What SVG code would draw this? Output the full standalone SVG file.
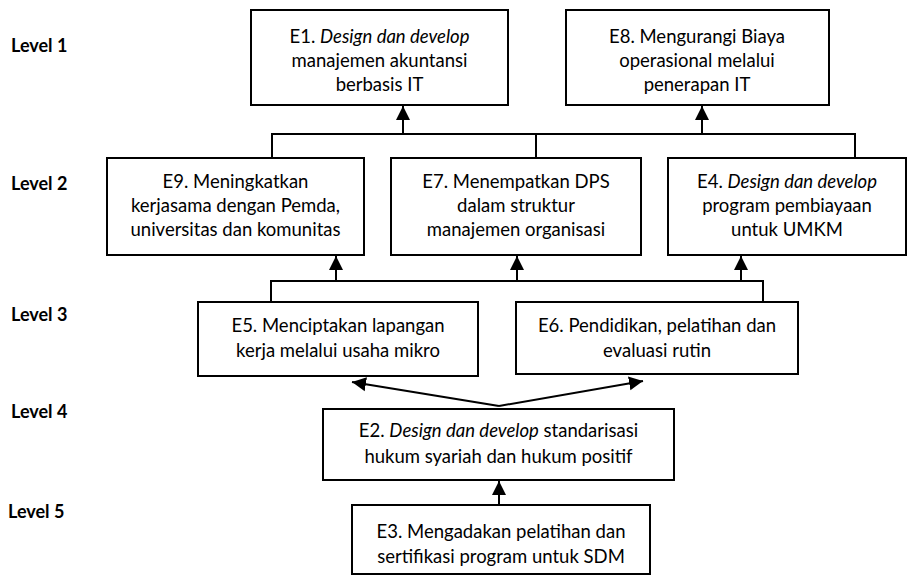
<svg xmlns="http://www.w3.org/2000/svg" width="907" height="576" viewBox="0 0 907 576">
<style>
.box{fill:#fff;stroke:#000;stroke-width:2}
.t{font-family:Lato,"Liberation Sans",sans-serif;font-size:18.5px;fill:#000;text-anchor:middle}
.lv{font-family:Lato,"Liberation Sans",sans-serif;font-size:18px;font-weight:bold;fill:#000}
.ln{fill:none;stroke:#000;stroke-width:2}
.ar{fill:none;stroke:#000;stroke-width:2;marker-end:url(#ah)}
</style>
<defs>
<marker id="ah" markerUnits="userSpaceOnUse" markerWidth="15" markerHeight="15" viewBox="0 0 15 15" refX="14" refY="7.5" orient="auto">
<path d="M0,0.5 L14,7.5 L0,14.5 Z" fill="#000"/>
</marker>
</defs>
<g id="levels">
<text class="lv" x="11" y="52">Level 1</text>
<text class="lv" x="11" y="190">Level 2</text>
<text class="lv" x="11" y="321">Level 3</text>
<text class="lv" x="11" y="418">Level 4</text>
<text class="lv" x="8" y="518">Level 5</text>
</g>
<g id="connectors">
<path class="ln" d="M272,158 V134 H855 V158"/>
<path class="ln" d="M536,134 V158"/>
<path class="ln" d="M271,302 V281 H763 V302"/>
<path class="ar" d="M403,134 V106"/>
<path class="ar" d="M702,134 V106"/>
<path class="ar" d="M336,281 V256"/>
<path class="ar" d="M517,281 V256"/>
<path class="ar" d="M741,281 V256"/>
<path class="ar" d="M499,406 L352,382"/>
<path class="ar" d="M499,406 L643,381"/>
<path class="ar" d="M499,505 V481"/>
</g>
<g id="E1">
<rect class="box" x="251" y="10" width="257" height="95"/>
<text class="t" x="379.5" y="43">E1. <tspan font-style="italic">Design dan develop</tspan></text>
<text class="t" x="379.5" y="67">manajemen akuntansi</text>
<text class="t" x="379.5" y="91">berbasis IT</text>
</g>
<g id="E8">
<rect class="box" x="566" y="10" width="263" height="95"/>
<text class="t" x="697" y="43">E8. Mengurangi Biaya</text>
<text class="t" x="697" y="67">operasional melalui</text>
<text class="t" x="697" y="91">penerapan IT</text>
</g>
<g id="E9">
<rect class="box" x="107" y="158" width="257" height="97"/>
<text class="t" x="235.5" y="188">E9. Meningkatkan</text>
<text class="t" x="235.5" y="212">kerjasama dengan Pemda,</text>
<text class="t" x="235.5" y="236">universitas dan komunitas</text>
</g>
<g id="E7">
<rect class="box" x="391" y="158" width="250" height="97"/>
<text class="t" x="516" y="188">E7. Menempatkan DPS</text>
<text class="t" x="516" y="212">dalam struktur</text>
<text class="t" x="516" y="236">manajemen organisasi</text>
</g>
<g id="E4">
<rect class="box" x="668" y="158" width="238" height="97"/>
<text class="t" x="787" y="188">E4. <tspan font-style="italic">Design dan develop</tspan></text>
<text class="t" x="787" y="212">program pembiayaan</text>
<text class="t" x="787" y="236">untuk UMKM</text>
</g>
<g id="E5">
<rect class="box" x="198" y="302" width="280" height="74"/>
<text class="t" x="338" y="332">E5. Menciptakan lapangan</text>
<text class="t" x="338" y="357">kerja melalui usaha mikro</text>
</g>
<g id="E6">
<rect class="box" x="516" y="302" width="282" height="72"/>
<text class="t" x="657" y="332">E6. Pendidikan, pelatihan dan</text>
<text class="t" x="657" y="357">evaluasi rutin</text>
</g>
<g id="E2">
<rect class="box" x="323" y="409" width="351" height="71"/>
<text class="t" x="498.5" y="437">E2. <tspan font-style="italic">Design dan develop</tspan> standarisasi</text>
<text class="t" x="498.5" y="463">hukum syariah dan hukum positif</text>
</g>
<g id="E3">
<rect class="box" x="352" y="505" width="298" height="69"/>
<text class="t" x="501" y="538">E3. Mengadakan pelatihan dan</text>
<text class="t" x="501" y="563">sertifikasi program untuk SDM</text>
</g>
</svg>
